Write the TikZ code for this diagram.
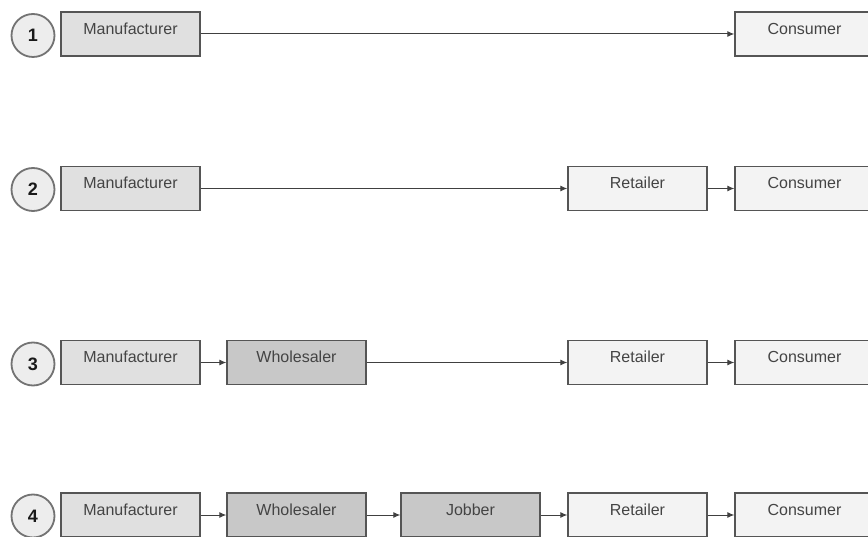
\documentclass[tikz,border=0pt]{standalone}
\usepackage{fontspec}
\setmainfont{Liberation Sans}
\usetikzlibrary{arrows.meta}
\definecolor{mfill}{HTML}{E0E0E0}
\definecolor{wfill}{HTML}{C8C8C8}
\definecolor{rfill}{HTML}{F3F3F3}
\definecolor{bord}{HTML}{555555}
\definecolor{txt}{HTML}{444444}
\tikzset{
  chbox/.style={draw=bord, line width=1.4pt, minimum width=139pt, minimum height=44pt, inner sep=0pt,
    text=txt, font=\fontsize{16}{18}\selectfont, text height=11.5pt, text depth=11pt},
  mbox/.style={chbox, fill=mfill},
  wbox/.style={chbox, fill=wfill},
  rbox/.style={chbox, fill=rfill},
  numcirc/.style={circle, draw=black!55, line width=1.8pt, fill=black!7, minimum size=43pt, inner sep=0pt,
    font=\bfseries\fontsize{18}{20}\selectfont, text=black!90},
  flow/.style={draw=black!75, line width=1pt, -{Latex[length=7pt,width=6pt]}}
}
\begin{document}
\begin{tikzpicture}[x=1pt,y=-1pt]
\clip (0,0) rectangle (868,537);
\useasboundingbox (0,0) rectangle (868,537);
\fill[white] (0,0) rectangle (868,537);
% row 1
\node[numcirc] (c1) at (33,35.5) {1};
\node[mbox] (m1) at (130.5,34) {Manufacturer};
\node[rbox] (k1) at (804.5,34) {Consumer};
\draw[flow] (m1) -- (k1);
% row 2
\node[numcirc] (c2) at (33,189.5) {2};
\node[mbox] (m2) at (130.5,188.5) {Manufacturer};
\node[rbox] (r2) at (637.5,188.5) {Retailer};
\node[rbox] (k2) at (804.5,188.5) {Consumer};
\draw[flow] (m2) -- (r2);
\draw[flow] (r2) -- (k2);
% row 3
\node[numcirc] (c3) at (33,364) {3};
\node[mbox] (m3) at (130.5,362.5) {Manufacturer};
\node[wbox] (w3) at (296.5,362.5) {Wholesaler};
\node[rbox] (r3) at (637.5,362.5) {Retailer};
\node[rbox] (k3) at (804.5,362.5) {Consumer};
\draw[flow] (m3) -- (w3);
\draw[flow] (w3) -- (r3);
\draw[flow] (r3) -- (k3);
% row 4
\node[numcirc] (c4) at (33,516) {4};
\node[mbox] (m4) at (130.5,515) {Manufacturer};
\node[wbox] (w4) at (296.5,515) {Wholesaler};
\node[wbox] (j4) at (470.5,515) {Jobber};
\node[rbox] (r4) at (637.5,515) {Retailer};
\node[rbox] (k4) at (804.5,515) {Consumer};
\draw[flow] (m4) -- (w4);
\draw[flow] (w4) -- (j4);
\draw[flow] (j4) -- (r4);
\draw[flow] (r4) -- (k4);
\end{tikzpicture}
\end{document}
